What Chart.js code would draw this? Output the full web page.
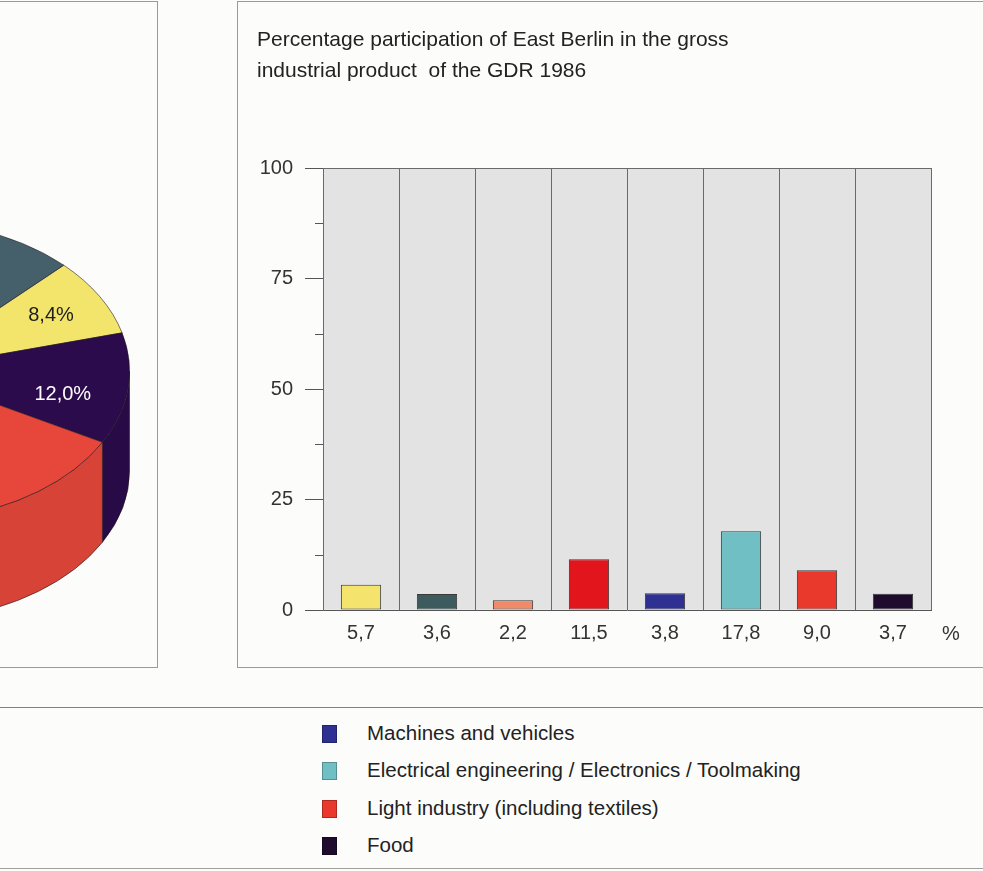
<!DOCTYPE html>
<html lang="en">
<head>
<meta charset="UTF-8">
<title>East Berlin in the gross industrial product of the GDR 1986</title>
<script src="https://cdn.jsdelivr.net/npm/chart.js"></script>
<style>
  body { margin: 0; width: 983px; height: 871px; position: relative; overflow: hidden;
         background: #fcfcfa; font-family: "Liberation Sans", Arial, sans-serif; color: #222; }
  #piePanel { position: absolute; left: -10px; top: 1px; width: 166px; height: 665px;
              border: 1px solid #9a9a9a; overflow: hidden; }
  #pieChart { position: absolute; left: -331px; top: 124px; }
  #barPanel { position: absolute; left: 237px; top: 1px; width: 770px; height: 665px;
              border: 1px solid #9a9a9a; }
  #barChart { position: absolute; left: 0; top: 0; }
  .rule { position: absolute; left: 0; width: 983px; height: 0; }
  #legend { position: absolute; left: 322px; top: 714px; }
  .item { position: relative; height: 37.3px; line-height: 37.3px; font-size: 20.5px; padding-left: 45px; white-space: nowrap; }
  .item span { position: absolute; left: 0; top: 11px; width: 13px; height: 16px; border: 1px solid rgba(0,0,0,0.25); }
</style>
</head>
<body>
<div id="piePanel"><canvas id="pieChart" width="500" height="700"></canvas></div>
<div id="barPanel"><canvas id="barChart" width="745" height="665"></canvas></div>
<div class="rule" style="top:707px;border-top:1.5px solid #808080"></div>
<div id="legend"></div>
<div class="rule" style="top:868px;border-top:1.5px solid #a0a0a0"></div>

<script>
// bar chart: share of East Berlin per industrial branch (%)
const branches = ['Energy and fuels', 'Chemical industry', 'Metallurgy', 'Building materials',
                  'Machines and vehicles', 'Electrical engineering / Electronics / Toolmaking',
                  'Light industry (including textiles)', 'Food'];
const shares = [5.7, 3.6, 2.2, 11.5, 3.8, 17.8, 9.0, 3.7];
const gdrTotal = [100, 100, 100, 100, 100, 100, 100, 100];
const barColors = ['#f4e46e', '#3d5a5e', '#f08b6a', '#e2151d', '#2e3192', '#70bfc4', '#e8392c', '#1e0b2e'];
const titleLines = ['Percentage participation of East Berlin in the gross',
                    'industrial product  of the GDR 1986'];
const minorTickValues = [12.5, 37.5, 62.5, 87.5];

// pie (only partly visible at the left edge)
const pieLabels = ['Energy and fuels', 'Food', 'Light industry (including textiles)', 'Machines and vehicles',
                   'Electrical engineering / Electronics / Toolmaking', 'Metallurgy', 'Building materials', 'Chemical industry'];
const pieValues = [8.4, 12.0, 13.9, 21.3, 31.6, 2.1, 3.3, 7.4];
const pieColors = ['#f3e56c', '#2b0b4c', '#e6473a', '#2e3192', '#74c2c6', '#f08c6c', '#d81e24', '#45606a'];
const pieLabelled = [0, 1];
const pieLabelColors = ['#1e1e1e', '#ffffff'];

// legend entries below the charts
const legendLabels = ['Machines and vehicles', 'Electrical engineering / Electronics / Toolmaking',
                      'Light industry (including textiles)', 'Food'];
const legendColors = ['#2e3192', '#70bfc4', '#e8392c', '#1e0b2e'];

const FONT = '"Liberation Sans", Arial, sans-serif';
const fmt = v => v.toFixed(1).replace('.', ',');

function shade(hex, f) {
  const n = parseInt(hex.slice(1), 16);
  const c = [n >> 16, (n >> 8) & 255, n & 255].map(x => Math.round(x * f));
  return 'rgb(' + c.join(',') + ')';
}

// --- pie drawn as a flattened 3D disc ---
const FLAT = 150 / 225;
const DEPTH = 100;

const pie3d = {
  id: 'pie3d',
  beforeDatasetsDraw(chart) {
    const ctx = chart.ctx;
    const arcs = chart.getDatasetMeta(0).data;
    const cx = arcs[0].x, cy = arcs[0].y, r = arcs[0].outerRadius;
    ctx.save();
    arcs.forEach((arc, i) => {
      [-2 * Math.PI, 0, 2 * Math.PI].forEach(m => {
        const a0 = Math.max(arc.startAngle, m);
        const a1 = Math.min(arc.endAngle, Math.PI + m);
        if (a1 <= a0) return;
        ctx.beginPath();
        ctx.ellipse(cx, cy, r, r * FLAT, 0, a0, a1);
        ctx.ellipse(cx, cy + DEPTH, r, r * FLAT, 0, a1, a0, true);
        ctx.closePath();
        ctx.fillStyle = shade(pieColors[i], 0.94);
        ctx.fill();
        ctx.strokeStyle = 'rgba(30,20,30,0.6)';
        ctx.lineWidth = 1;
        ctx.stroke();
      });
    });
    ctx.restore();
    // squash the top surface into an ellipse
    ctx.save();
    ctx.translate(0, cy * (1 - FLAT));
    ctx.scale(1, FLAT);
  },
  afterDatasetsDraw(chart) {
    const ctx = chart.ctx;
    ctx.restore();
    const arcs = chart.getDatasetMeta(0).data;
    ctx.save();
    ctx.font = '20px ' + FONT;
    ctx.textAlign = 'center';
    ctx.textBaseline = 'middle';
    pieLabelled.forEach((i, k) => {
      const a = arcs[i];
      const mid = (a.startAngle + a.endAngle) / 2 + (k === 1 ? 0.1 : 0);
      const rr = a.outerRadius * (k === 1 ? 0.72 : 0.75);
      ctx.fillStyle = pieLabelColors[k];
      ctx.fillText(fmt(pieValues[i]) + '%', a.x + rr * Math.cos(mid), a.y + rr * FLAT * Math.sin(mid));
    });
    ctx.restore();
  }
};

new Chart(document.getElementById('pieChart'), {
  type: 'pie',
  data: {
    labels: pieLabels,
    datasets: [{
      data: pieValues,
      backgroundColor: pieColors,
      borderColor: 'rgba(30,20,30,0.7)',
      borderWidth: 1,
      clip: false
    }]
  },
  options: {
    responsive: false,
    animation: false,
    events: [],
    rotation: 45,
    layout: { padding: { left: 20, top: 20, right: 30, bottom: 230 } },
    plugins: { legend: { display: false }, tooltip: { enabled: false } }
  },
  plugins: [pie3d]
});

// --- bar chart ---
const minorTicks = {
  id: 'minorTicks',
  afterDraw(chart) {
    const ctx = chart.ctx, y = chart.scales.y, left = chart.chartArea.left;
    ctx.save();
    ctx.strokeStyle = '#555';
    ctx.lineWidth = 1;
    minorTickValues.forEach(v => {
      const py = Math.round(y.getPixelForValue(v)) + 0.5;
      ctx.beginPath();
      ctx.moveTo(left - 8, py);
      ctx.lineTo(left, py);
      ctx.stroke();
    });
    // unit sign after the value row
    ctx.font = '20px ' + FONT;
    ctx.fillStyle = '#333';
    ctx.textBaseline = 'middle';
    ctx.fillText('%', chart.chartArea.right + 11, chart.chartArea.bottom + 24);
    ctx.restore();
  }
};

new Chart(document.getElementById('barChart'), {
  type: 'bar',
  data: {
    labels: branches,
    datasets: [
      {
        label: 'East Berlin',
        data: shares,
        backgroundColor: barColors,
        borderColor: '#3a3a3a',
        borderWidth: 1,
        borderSkipped: false,
        barPercentage: 0.53,
        categoryPercentage: 1,
        grouped: false,
        order: 1
      },
      {
        label: 'GDR',
        data: gdrTotal,
        backgroundColor: '#e3e3e3',
        borderWidth: 0,
        barPercentage: 1,
        categoryPercentage: 1,
        grouped: false,
        order: 2
      }
    ]
  },
  options: {
    responsive: false,
    animation: false,
    events: [],
    layout: { padding: { left: 19, right: 52, top: 22, bottom: 0 } },
    plugins: {
      legend: { display: false },
      tooltip: { enabled: false },
      title: {
        display: true,
        text: titleLines,
        align: 'start',
        color: '#222',
        font: { family: FONT, size: 21, weight: 'normal', lineHeight: 1.5 },
        padding: { top: 0, bottom: 81 }
      }
    },
    scales: {
      x: {
        grid: { z: 1, offset: true, color: '#6a6a6a', drawTicks: false },
        border: { z: 1, color: '#555' },
        ticks: {
          callback: (v, i) => fmt(shares[i]),
          font: { family: FONT, size: 20 },
          color: '#333',
          padding: 11,
          autoSkip: false,
          maxRotation: 0
        },
        afterFit: s => { s.height = 57; }
      },
      y: {
        min: 0,
        max: 100,
        ticks: { stepSize: 25, font: { family: FONT, size: 20 }, color: '#333', padding: 12 },
        grid: {
          z: 1,
          color: c => c.tick && c.tick.value === 100 ? '#6a6a6a' : 'rgba(0,0,0,0)',
          tickColor: '#555',
          tickLength: 18
        },
        border: { z: 1, color: '#6a6a6a' },
        afterFit: s => { s.width = 66; }
      }
    }
  },
  plugins: [minorTicks]
});

// legend
const legend = document.getElementById('legend');
legendLabels.forEach((txt, i) => {
  const row = document.createElement('div');
  row.className = 'item';
  const sw = document.createElement('span');
  sw.style.background = legendColors[i];
  row.appendChild(sw);
  row.appendChild(document.createTextNode(txt));
  legend.appendChild(row);
});
</script>
</body>
</html>
